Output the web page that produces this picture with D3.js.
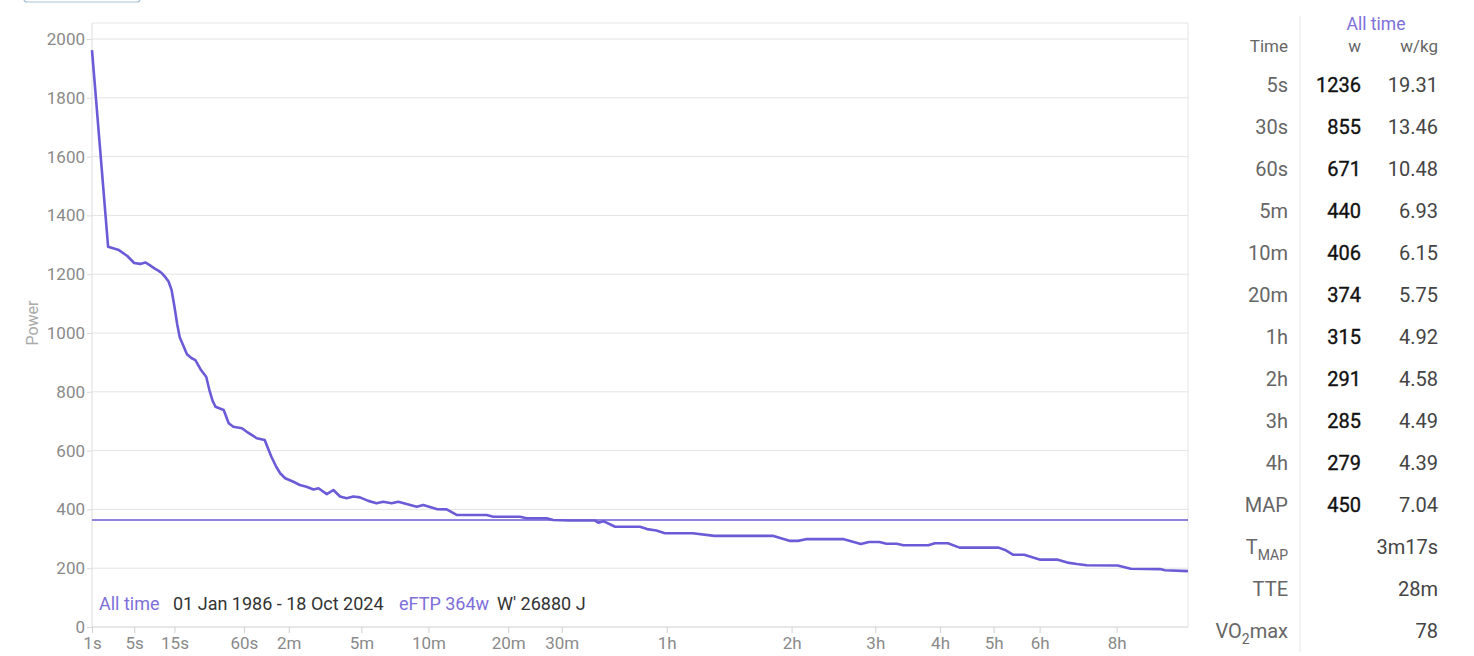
<!DOCTYPE html>
<html>
<head>
<meta charset="utf-8">
<script src="https://cdn.jsdelivr.net/npm/d3@7"></script>
<style>
  html, body { margin: 0; padding: 0; background: #fff; }
  svg { display: block; font-family: Roboto, "Noto Sans", sans-serif; }
</style>
</head>
<body>
<svg id="chart" width="1474" height="656"></svg>
<script>
// ---- data ----
const durations = [1,2,3,4,5,6,7,8,9,10,11,12,13,14,15,16,17,18,20,22,24,27,30,32,34,36,42,46,50,58,63,70,74,84,88,93,100,106,114,128,140,153,168,179,199,216,234,253,274,295,324,355,381,416,446,485,536,571,648,711,777,1006,1063,1316,1386,1612,1693,1909,2272,2324,2403,2600,3050,3190,3380,3560,4200,4760,6530,7120,7440,7780,9280,10100,10480,11000,11373,11900,12270,13690,14080,14890,15640,18370,18850,19450,20340,20860,21660,23160,24020,24900,25810,28900,30290,33570,34150,36950];
const watts = [1962,1293,1282,1262,1238,1235,1240,1230,1220,1212,1203,1190,1175,1146,1089,1030,985,965,928,915,908,874,851,806,770,749,738,693,681,676,664,650,642,636,610,579,545,523,506,494,483,477,468,472,452,466,444,438,444,441,429,421,426,421,426,418,409,415,401,400,381,381,375,375,370,370,364,362,362,355,360,341,341,333,328,319,319,310,310,293,293,299,299,282,289,289,283,283,278,278,285,285,270,270,262,246,246,239,229,229,219,214,210,209,198,197,193,190];
const eFTP = 364;

const yTicks = [0,200,400,600,800,1000,1200,1400,1600,1800,2000];
const xTickValues = [1,5,15,60,120,300,600,1200,1800,3600,7200,10800,14400,18000,21600,28800];
const xTickLabels = ["1s","5s","15s","60s","2m","5m","10m","20m","30m","1h","2h","3h","4h","5h","6h","8h"];

const legendParts = ["All time","01 Jan 1986 - 18 Oct 2024","eFTP 364w","W' 26880 J"];

const tableLabels = ["5s","30s","60s","5m","10m","20m","1h","2h","3h","4h","MAP","TMAP","TTE","VO2max"];
const tableWatts = ["1236","855","671","440","406","374","315","291","285","279","450","","",""];
const tableWkg = ["19.31","13.46","10.48","6.93","6.15","5.75","4.92","4.58","4.49","4.39","7.04","3m17s","28m","78"];

// ---- styles ----
const purple = "#6b5bd6";
const svg = d3.select("#chart");

// top-left button remnant
svg.append("rect").attr("x",24).attr("y",-6).attr("width",116).attr("height",8).attr("rx",3)
  .attr("fill","#fff").attr("stroke","#a8c4da").attr("stroke-width",1.2);

const L = 92, R = 1188, T = 23, B = 627;
const x = d3.scalePow().exponent(0.25).domain([1, 36950]).range([L, R]);
const y = d3.scaleLinear().domain([0, 2000]).range([B, 39]);

// grid
svg.append("g").selectAll("line").data(yTicks.filter(d => d > 0)).join("line")
  .attr("x1", L).attr("x2", R).attr("y1", d => y(d)).attr("y2", d => y(d))
  .attr("stroke", "#e4e4e4").attr("stroke-width", 1);

// frame
svg.append("line").attr("x1",L).attr("x2",R).attr("y1",T).attr("y2",T).attr("stroke","#e6e6e6");
svg.append("line").attr("x1",R).attr("x2",R).attr("y1",T).attr("y2",B).attr("stroke","#e6e6e6");
svg.append("line").attr("x1",L).attr("x2",L).attr("y1",T).attr("y2",B).attr("stroke","#dcdcdc");

// y axis labels
const yAxis = d3.axisLeft(y).tickValues(yTicks).tickFormat(d3.format("d")).tickSize(5).tickPadding(2);
const gy = svg.append("g").attr("transform", `translate(${L},0)`).call(yAxis);
gy.select(".domain").remove();
gy.selectAll(".tick line").attr("stroke", "#dcdcdc");
gy.selectAll(".tick text").attr("fill", "#8a8a8a").style("font-size", "17px").style("font-family","Roboto");

// x axis
const xAxis = d3.axisBottom(x).tickValues(xTickValues).tickFormat((d,i) => xTickLabels[i]).tickSize(6).tickPadding(4);
const gx = svg.append("g").attr("transform", `translate(0,${B})`).call(xAxis);
gx.select(".domain").attr("stroke", "#d0d0d0").attr("d", `M${L},0H${R}`);
gx.selectAll(".tick line").attr("stroke", "#d0d0d0");
gx.selectAll(".tick text").attr("fill", "#8a8a8a").style("font-size", "17px").style("font-family","Roboto");

// Power label
svg.append("text").attr("transform", "translate(38,323) rotate(-90)").attr("text-anchor","middle")
  .attr("fill","#aaa").style("font-size","16px").text("Power");

// eFTP line
svg.append("line").attr("x1",L).attr("x2",R).attr("y1",y(eFTP)).attr("y2",y(eFTP))
  .attr("stroke", purple).attr("stroke-width", 1.3);

// curve
const pts = durations.map((d,i) => [d, watts[i]]);
svg.append("path").datum(pts)
  .attr("fill","none").attr("stroke", purple).attr("stroke-width", 2.6).attr("stroke-linejoin","round")
  .attr("d", d3.line().x(d => x(d[0])).y(d => y(d[1])).curve(d3.curveLinear));

// legend
const legX = [99, 173, 399, 497];
const legC = [ "#7e6fd9", "#333", "#7e6fd9", "#333"];
legendParts.forEach((t,i) => {
  svg.append("text").attr("x", legX[i]).attr("y", 610).attr("fill", legC[i]).style("font-size","18px").text(t);
});

// right table
svg.append("line").attr("x1",1300).attr("x2",1300).attr("y1",16).attr("y2",652).attr("stroke","#e8e8e8");
svg.append("text").attr("x",1376).attr("y",30).attr("text-anchor","middle").attr("fill","#7e6fd9").style("font-size","17.5px").text("All time");
svg.append("text").attr("x",1288).attr("y",52).attr("text-anchor","end").attr("fill","#666").style("font-size","17px").text("Time");
svg.append("text").attr("x",1361).attr("y",52).attr("text-anchor","end").attr("fill","#666").style("font-size","17px").text("w");
svg.append("text").attr("x",1438).attr("y",52).attr("text-anchor","end").attr("fill","#666").style("font-size","17px").text("w/kg");

const rowY = i => 92 + 42 * i;
tableLabels.forEach((lab,i) => {
  const t = svg.append("text").attr("x",1288).attr("y",rowY(i)).attr("text-anchor","end").attr("fill","#666").style("font-size","20px");
  if (lab === "TMAP") {
    t.append("tspan").text("T");
    t.append("tspan").attr("dy", 6).style("font-size","14px").text("MAP");
  } else if (lab === "VO2max") {
    t.append("tspan").text("VO");
    t.append("tspan").attr("dy", 6).style("font-size","14px").text("2");
    t.append("tspan").attr("dy", -6).text("max");
  } else {
    t.text(lab);
  }
  if (tableWatts[i]) {
    svg.append("text").attr("x",1361).attr("y",rowY(i)).attr("text-anchor","end").attr("fill","#111")
      .attr("stroke","#111").attr("stroke-width",0.35)
      .style("font-size","20px").text(tableWatts[i]);
  }
  svg.append("text").attr("x",1438).attr("y",rowY(i)).attr("text-anchor","end").attr("fill","#444")
    .style("font-size","20px").text(tableWkg[i]);
});
</script>
</body>
</html>
